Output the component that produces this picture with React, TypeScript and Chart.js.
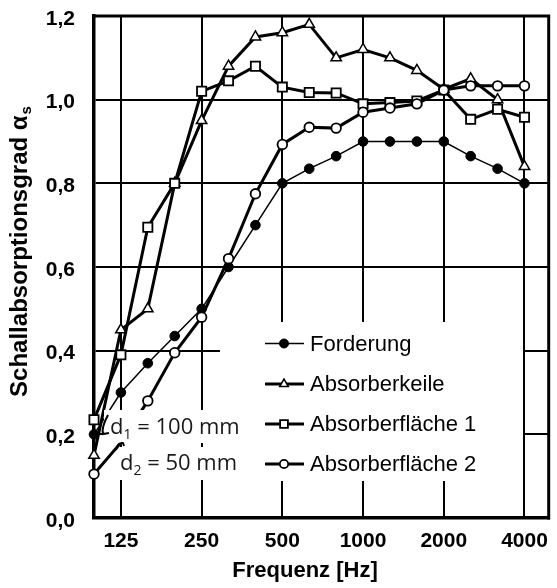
import React, { useEffect, useRef } from "react";
import { Chart, registerables } from "chart.js";

Chart.register(...registerables);

// ---- data ----
const bands = ["100", "125", "160", "200", "250", "315", "400", "500", "630", "800", "1000", "1250", "1600", "2000", "2500", "3150", "4000"];
const labeledBands = ["125", "250", "500", "1000", "2000", "4000"];
const yTickValues = [0, 0.2, 0.4, 0.6, 0.8, 1.0, 1.2];

const forderung = [0.2, 0.3, 0.37, 0.435, 0.5, 0.6, 0.7, 0.8, 0.835, 0.865, 0.9, 0.9, 0.9, 0.9, 0.865, 0.835, 0.8];
const absorberkeile = [0.15, 0.45, 0.5, 0.8, 0.95, 1.08, 1.15, 1.16, 1.18, 1.1, 1.12, 1.1, 1.07, 1.025, 1.05, 1.0, 0.84];
const absorberflaeche1 = [0.235, 0.39, 0.695, 0.8, 1.02, 1.045, 1.08, 1.03, 1.017, 1.016, 0.99, 0.993, 0.997, 1.023, 0.953, 0.977, 0.958];
const absorberflaeche2 = [0.105, 0.18, 0.28, 0.395, 0.48, 0.62, 0.775, 0.893, 0.934, 0.932, 0.97, 0.98, 0.99, 1.023, 1.033, 1.033, 1.033];

const seriesNames = ["Forderung", "Absorberkeile", "Absorberfläche 1", "Absorberfläche 2"];
const xTitle = "Frequenz [Hz]";
const yTitleMain = "Schallabsorptionsgrad α";
const yTitleSub = "s";
const notes = [
  { main: "d", sub: "1", rest: " = 100 mm" },
  { main: "d", sub: "2", rest: " = 50 mm" },
];

const toPoints = (arr: number[]) => arr.map((v, i) => ({ x: i, y: v }));

function drawMarker(ctx: CanvasRenderingContext2D, style: string, x: number, y: number, r: number, fill: string, bw: number) {
  ctx.beginPath();
  if (style === "circle") {
    ctx.arc(x, y, r, 0, Math.PI * 2);
  } else if (style === "rect") {
    const s = r * Math.SQRT1_2;
    ctx.rect(x - s, y - s, 2 * s, 2 * s);
  } else if (style === "triangle") {
    for (let k = 0; k < 3; k++) {
      const a = (k * 2 * Math.PI) / 3;
      const px = x + Math.sin(a) * r;
      const py = y - Math.cos(a) * r;
      if (k === 0) ctx.moveTo(px, py);
      else ctx.lineTo(px, py);
    }
    ctx.closePath();
  }
  ctx.fillStyle = fill;
  ctx.fill();
  ctx.lineWidth = bw;
  ctx.strokeStyle = "#000";
  ctx.stroke();
}

export default function App() {
  const ref = useRef<HTMLCanvasElement>(null);

  useEffect(() => {
    const canvas = ref.current!;

    const overlay = {
      id: "overlay",
      beforeDraw(chart: any) {
        const ctx = chart.ctx;
        ctx.save();
        ctx.fillStyle = "#fff";
        ctx.fillRect(0, 0, chart.width, chart.height);
        ctx.restore();
      },
      beforeDatasetsDraw(chart: any) {
        const ctx = chart.ctx;
        const ca = chart.chartArea;
        ctx.save();
        ctx.strokeStyle = "#000";
        ctx.lineWidth = 3;
        ctx.beginPath();
        ctx.moveTo(ca.left - 1.5, ca.top);
        ctx.lineTo(ca.right, ca.top);
        ctx.lineTo(ca.right, ca.bottom + 1.5);
        ctx.stroke();
        ctx.restore();
      },
      afterDatasetsDraw(chart: any) {
        const ctx = chart.ctx;
        ctx.save();
        // legend box
        ctx.fillStyle = "#fff";
        ctx.fillRect(220, 322, 303, 159);
        const rows = [343.5, 384, 424, 464];
        chart.data.datasets.forEach((ds: any, i: number) => {
          const y = rows[i];
          ctx.beginPath();
          ctx.moveTo(265, y);
          ctx.lineTo(304, y);
          ctx.lineWidth = ds.borderWidth;
          ctx.strokeStyle = "#000";
          ctx.stroke();
          drawMarker(ctx, ds.pointStyle, 284, y, ds.legendRadius, ds.pointBackgroundColor, ds.pointBorderWidth);
          ctx.fillStyle = "#000";
          ctx.font = "22px 'Liberation Sans', Arial, sans-serif";
          ctx.textBaseline = "middle";
          ctx.textAlign = "left";
          ctx.fillText(seriesNames[i], 310, y + 1);
        });

        // annotation boxes
        ctx.fillStyle = "#fff";
        ctx.fillRect(104, 410, 142, 33);
        ctx.fillRect(120, 447, 126, 33);
        const noteXs = [110, 120];
        const noteYs = [434, 470];
        notes.forEach((n, i) => {
          let x = noteXs[i];
          const y = noteYs[i];
          ctx.fillStyle = "#1a1a1a";
          ctx.textBaseline = "alphabetic";
          ctx.font = "22px 'Open Sans', sans-serif";
          ctx.fillText(n.main, x, y);
          x += ctx.measureText(n.main).width;
          ctx.font = "14px 'Open Sans', sans-serif";
          ctx.fillText(n.sub, x, y + 5);
          x += ctx.measureText(n.sub).width;
          ctx.font = "22px 'Open Sans', sans-serif";
          ctx.fillText(n.rest, x, y);
        });
        // hooks
        ctx.strokeStyle = "#000";
        ctx.lineWidth = 2;
        ctx.beginPath();
        ctx.moveTo(108, 415);
        ctx.quadraticCurveTo(101, 428, 103, 434);
        ctx.lineTo(109, 433);
        ctx.stroke();
        ctx.beginPath();
        ctx.moveTo(116, 450);
        ctx.quadraticCurveTo(118, 442, 123, 443);
        ctx.lineTo(124, 446);
        ctx.stroke();

        // axis titles
        ctx.fillStyle = "#000";
        ctx.font = "bold 22px 'Liberation Sans', Arial, sans-serif";
        ctx.textAlign = "center";
        ctx.textBaseline = "alphabetic";
        ctx.fillText(xTitle, 305, 577);

        ctx.translate(27, 252);
        ctx.rotate(-Math.PI / 2);
        ctx.textAlign = "left";
        ctx.font = "bold 24px 'Liberation Sans', Arial, sans-serif";
        const w1 = ctx.measureText(yTitleMain).width;
        ctx.font = "bold 15px 'Liberation Sans', Arial, sans-serif";
        const w2 = ctx.measureText(yTitleSub).width;
        const start = -(w1 + w2) / 2;
        ctx.font = "bold 24px 'Liberation Sans', Arial, sans-serif";
        ctx.fillText(yTitleMain, start, 0);
        ctx.font = "bold 15px 'Liberation Sans', Arial, sans-serif";
        ctx.fillText(yTitleSub, start + w1 + 1, 4);
        ctx.restore();
      },
    };

    const tickFont = { family: "'Liberation Sans', Arial, sans-serif", size: 21, weight: "bold" as const };

    const chart = new Chart(canvas, {
      type: "line",
      data: {
        datasets: [
          {
            label: seriesNames[0],
            data: toPoints(forderung),
            borderColor: "#000",
            borderWidth: 1.5,
            pointStyle: "circle",
            pointRadius: 4.8,
            pointBackgroundColor: "#000",
            pointBorderColor: "#000",
            pointBorderWidth: 1,
            legendRadius: 4.5,
            clip: false,
            order: 3,
          } as any,
          {
            label: seriesNames[1],
            data: toPoints(absorberkeile),
            borderColor: "#000",
            borderWidth: 3,
            pointStyle: "triangle",
            pointRadius: 6,
            pointBackgroundColor: "#fff",
            pointBorderColor: "#000",
            pointBorderWidth: 1.5,
            legendRadius: 5,
            clip: false,
            order: 2,
          } as any,
          {
            label: seriesNames[2],
            data: toPoints(absorberflaeche1),
            borderColor: "#000",
            borderWidth: 3,
            pointStyle: "rect",
            pointRadius: 6.5,
            pointBackgroundColor: "#fff",
            pointBorderColor: "#000",
            pointBorderWidth: 1.8,
            legendRadius: 5.5,
            clip: false,
            order: 1,
          } as any,
          {
            label: seriesNames[3],
            data: toPoints(absorberflaeche2),
            borderColor: "#000",
            borderWidth: 3,
            pointStyle: "circle",
            pointRadius: bands.map((_, i) => (i === 1 ? 0 : 4.8)),
            pointBackgroundColor: "#fff",
            pointBorderColor: "#000",
            pointBorderWidth: 1.8,
            legendRadius: 4.2,
            clip: false,
            order: 0,
          } as any,
        ],
      },
      options: {
        responsive: false,
        animation: false,
        devicePixelRatio: 1,
        layout: { padding: { top: 16, right: 6, left: 0, bottom: 0 } },
        plugins: { legend: { display: false }, tooltip: { enabled: false }, title: { display: false } },
        elements: { line: { tension: 0 } },
        scales: {
          x: {
            type: "linear",
            min: 0,
            max: 16.9,
            afterFit: (s: any) => {
              s.height = 70;
              s.paddingLeft = 0;
              s.paddingRight = 0;
            },
            afterBuildTicks: (s: any) => {
              s.ticks = labeledBands.map((b) => ({ value: bands.indexOf(b) }));
            },
            ticks: {
              callback: (v: any) => bands[Math.round(v)],
              font: tickFont,
              color: "#000",
              padding: 11,
              maxRotation: 0,
              autoSkip: false,
            },
            grid: { color: "#000", lineWidth: 2, drawTicks: false },
            border: { display: true, color: "#000", width: 3.5 },
          },
          y: {
            type: "linear",
            min: 0,
            max: 1.2,
            afterFit: (s: any) => {
              s.width = 94;
              s.paddingTop = 0;
              s.paddingBottom = 0;
            },
            afterBuildTicks: (s: any) => {
              s.ticks = yTickValues.map((v) => ({ value: v }));
            },
            ticks: {
              callback: (v: any) => Number(v).toFixed(1).replace(".", ","),
              font: tickFont,
              color: "#000",
              padding: 19,
              labelOffset: 3,
            },
            grid: { color: "#000", lineWidth: 2, drawTicks: false },
            border: { display: true, color: "#000", width: 3.5 },
          },
        },
      },
      plugins: [overlay],
    });

    return () => chart.destroy();
  }, []);

  return (
    <div style={{ position: "fixed", left: 0, top: 0, width: 557, height: 588, background: "#fff" }}>
      <canvas ref={ref} width={557} height={588} style={{ display: "block", width: 557, height: 588 }} />
    </div>
  );
}
